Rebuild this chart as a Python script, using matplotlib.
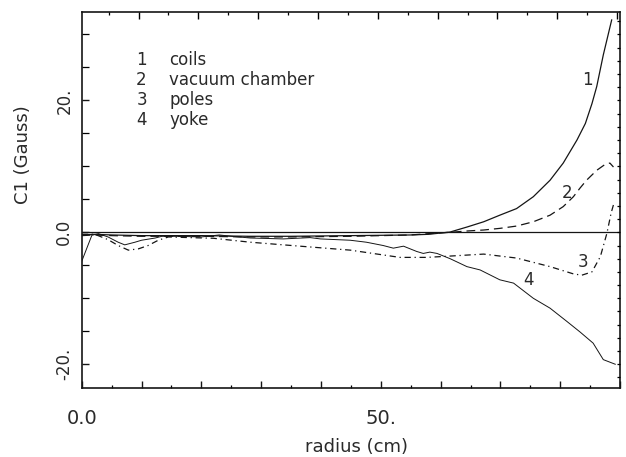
import numpy as np
import matplotlib
matplotlib.use("Agg")
import matplotlib.pyplot as plt
from matplotlib.ticker import MultipleLocator, FixedLocator, FuncFormatter

# curve 1: coils (solid)
r1 = [0, 2, 5, 10, 15, 20, 28, 35, 45, 55, 58, 61.6, 64.4, 67.2, 69.9, 72.7,
      75.5, 78.3, 80.5, 82.8, 84.2, 85.3, 86.1, 87.2, 88.6]
c1 = [-0.4, -0.3, -0.4, -0.5, -0.5, -0.5, -0.6, -0.6, -0.5, -0.4, -0.3, 0.05,
      0.8, 1.6, 2.6, 3.6, 5.4, 7.9, 10.5, 14.0, 16.5, 19.5, 22.1, 26.9, 32.2]

# curve 2: vacuum chamber (dashed)
r2 = [0, 2, 5, 10, 15, 20, 28, 35, 45, 55, 58, 61.6, 64.4, 67.2, 69.9, 72.7,
      75.5, 78.3, 80.5, 82.2, 83.3, 84.4, 86.1, 87.5, 88.3, 88.9]
c2 = [-0.5, -0.4, -0.5, -0.6, -0.6, -0.6, -0.7, -0.7, -0.6, -0.4, -0.2, 0.0,
      0.2, 0.35, 0.6, 0.95, 1.6, 2.6, 3.9, 5.4, 6.7, 7.9, 9.4, 10.3, 10.5, 9.9]

# curve 3: poles (dash-dot)
r3 = [0, 2.2, 4.4, 6.1, 7.8, 9.5, 11.1, 12.8, 14.5, 18, 22, 28.2, 36.5, 44.9,
      53.2, 57.7, 61.6, 67.2, 72.7, 78.3, 82.2, 83.6, 85.3, 86.7, 87.8, 88.5, 89.0]
c3 = [-0.3, -0.3, -1.1, -2.0, -2.7, -2.5, -2.0, -1.2, -0.7, -0.8, -0.9, -1.5,
      -2.1, -2.7, -3.8, -3.8, -3.6, -3.3, -3.9, -5.2, -6.3, -6.5, -6.0, -3.7,
      -0.15, 2.9, 4.5]

# curve 4: yoke (thin solid)
r4 = [0, 1.7, 2.8, 4.4, 6.1, 7.2, 8.9, 10.0, 12.3, 13.4, 16, 20, 23, 25, 28.2,
      33.7, 38.2, 39.9, 44.9, 47.6, 50.4, 52.1, 53.8, 56.0, 57.1, 58.2, 59.4,
      61.6, 64.4, 66.6, 69.9, 72.2, 75.5, 78.3, 81.1, 83.3, 85.5, 87.2, 89.2]
c4 = [-4.4, -0.45, -0.2, -0.7, -1.5, -1.9, -1.5, -1.2, -0.86, -0.6, -0.6, -0.7,
      -0.4, -0.6, -0.86, -1.0, -0.8, -1.0, -1.2, -1.5, -2.0, -2.4, -2.1, -2.9,
      -3.2, -3.0, -3.2, -4.0, -5.2, -5.7, -7.2, -7.7, -10.0, -11.5, -13.5,
      -15.1, -16.8, -19.3, -20.0]

legend_nums = ["1", "2", "3", "4"]
legend_names = ["coils", "vacuum chamber", "poles", "yoke"]
xtick_text = {0: "0.0", 50: "50."}
ytick_text = {-20: "-20.", 0: "0.0", 20: "20."}

plt.rcParams["font.family"] = ["DejaVu Sans"]
ink = "#151515"
txt = "#2a2a2a"

fig = plt.figure(figsize=(6.26, 4.57), dpi=100)
ax = fig.add_axes([0.1305, 0.151, 0.86, 0.8227])

ax.axhline(0, color=ink, lw=0.9)
ax.plot(r1, c1, color=ink, lw=0.9)
ax.plot(r2, c2, color=ink, lw=0.9, linestyle=(0, (7, 4)))
ax.plot(r3, c3, color=ink, lw=0.9, linestyle=(0, (5, 3, 1, 3)))
ax.plot(r4, c4, color=ink, lw=0.7)

# curve numbers
ax.text(84.6, 23.1, "1", fontsize=12, color=txt, ha="center", va="center")
ax.text(81.2, 6.0, "2", fontsize=12, color=txt, ha="center", va="center")
ax.text(83.8, -4.5, "3", fontsize=12, color=txt, ha="center", va="center")
ax.text(74.7, -7.2, "4", fontsize=12, color=txt, ha="center", va="center")

# legend block
for i, (n, name) in enumerate(zip(legend_nums, legend_names)):
    y = 26.1 - 3.0 * i
    ax.text(10.0, y, n, fontsize=12, color=txt, ha="center", va="center")
    ax.text(14.6, y, name, fontsize=12, color=txt, ha="left", va="center")

ax.set_xlim(0, 90)
ax.set_ylim(-23.6, 33.4)

for s in ax.spines.values():
    s.set_linewidth(1.2)
    s.set_color(ink)

# bottom ticks
ax.xaxis.set_major_locator(MultipleLocator(10))
ax.xaxis.set_minor_locator(MultipleLocator(5))
ax.xaxis.set_major_formatter(FuncFormatter(lambda v, p: xtick_text.get(int(round(v)), "")))
ax.tick_params(axis="x", which="major", direction="in", length=5, width=1.0,
               pad=15, labelsize=14, colors=ink, labelcolor=txt, top=False)
ax.tick_params(axis="x", which="minor", direction="in", length=2.5, width=0.9, top=False)

# left ticks
ax.yaxis.set_major_locator(FixedLocator(list(ytick_text.keys())))
ax.yaxis.set_minor_locator(MultipleLocator(5))
ax.yaxis.set_major_formatter(FuncFormatter(lambda v, p: ytick_text.get(int(round(v)), "")))
ax.tick_params(axis="y", which="major", direction="in", length=5, width=1.0,
               pad=6, labelsize=12, colors=ink, labelcolor=txt, right=False)
ax.tick_params(axis="y", which="minor", direction="in", length=5, width=0.9, right=False)
for lab in ax.get_yticklabels():
    lab.set_rotation(90)
    lab.set_va("center")

# top ticks (offset scale)
axt = ax.twiny()
axt.set_xlim(0.5, 90.5)
axt.xaxis.set_major_locator(MultipleLocator(10))
axt.xaxis.set_minor_locator(MultipleLocator(5))
axt.tick_params(axis="x", which="major", direction="in", length=5, width=1.0, labeltop=False)
axt.tick_params(axis="x", which="minor", direction="in", length=2.5, width=0.9)

# right ticks
axr = ax.twinx()
axr.set_ylim(ax.get_ylim())
axr.yaxis.set_major_locator(MultipleLocator(2))
axr.tick_params(axis="y", which="major", direction="in", length=2.5, width=0.9, labelright=False)
for a in (axt, axr):
    for s in a.spines.values():
        s.set_visible(False)

ax.set_xlabel("radius (cm)", fontsize=13, color=txt)
ax.xaxis.set_label_coords(0.511, -0.133)
ax.set_ylabel("C1 (Gauss)", fontsize=13, color=txt)
ax.yaxis.set_label_coords(-0.092, 0.62)

fig.savefig("out.png", dpi=100)
